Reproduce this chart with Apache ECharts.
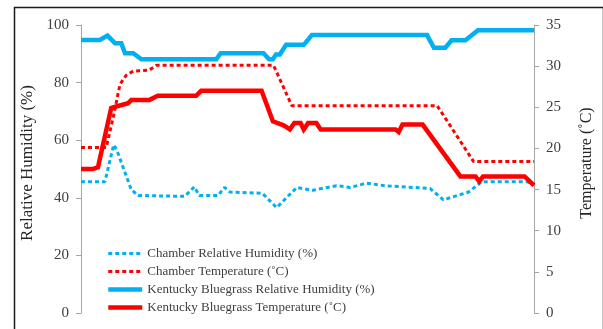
<!DOCTYPE html>
<html>
<head>
<meta charset="utf-8">
<script src="https://cdn.jsdelivr.net/npm/echarts@6/dist/echarts.min.js"></script>
<style>
  html, body { margin: 0; padding: 0; background: #fff; }
  #chart { width: 603px; height: 329px; }
</style>
</head>
<body>
<div id="chart"></div>
<script>
// Elapsed time (h) paired with readings; each series logs its own turning points.
const seriesNames = [
  'Chamber Relative Humidity (%)',
  'Chamber Temperature (˚C)',
  'Kentucky Bluegrass Relative Humidity (%)',
  'Kentucky Bluegrass Temperature (˚C)'
];

const chamberRH = [
  [0, 45.6], [3.8, 45.6], [5.2, 58.4], [5.7, 56.5], [8.0, 42.8], [9.1, 40.8],
  [16.5, 40.5], [18.0, 43.8], [18.8, 40.8], [21.8, 40.8], [22.8, 43.6], [23.7, 42.0],
  [28.8, 41.6], [31.1, 36.6], [34.3, 43.6], [36.8, 42.6], [40.6, 44.2], [42.8, 43.6],
  [45.4, 45.1], [48.3, 44.2], [54.2, 43.4], [55.5, 43.2], [57.6, 39.3], [61.6, 42.0],
  [63.7, 45.6], [70.9, 45.6], [72, 44.5]
];

const chamberTemp = [
  [0, 20.1], [4.0, 20.1], [5.1, 23.7], [6.2, 27.8], [7.2, 28.9], [8.3, 29.4],
  [10.8, 29.5], [12.0, 30.1], [30.6, 30.1], [33.5, 25.2], [56.6, 25.2],
  [62.4, 18.4], [72, 18.4]
];

const bluegrassRH = [
  [0, 94.8], [3.0, 94.8], [4.2, 96.3], [5.4, 93.7], [6.4, 93.7], [7.0, 90.2],
  [8.3, 90.2], [9.6, 88.1], [21.5, 88.1], [22.2, 90.2], [29.0, 90.2], [29.9, 88.1],
  [30.5, 88.1], [31.0, 89.8], [31.6, 89.8], [32.6, 93.1], [35.4, 93.1], [36.7, 96.5],
  [55.0, 96.5], [56.1, 92.1], [57.9, 92.1], [58.9, 94.7], [61.1, 94.7], [63.1, 98.2],
  [72, 98.2]
];

const bluegrassTemp = [
  [0, 17.5], [1.9, 17.5], [2.7, 17.7], [4.8, 24.9], [5.6, 25.1], [7.5, 25.5],
  [8.0, 25.9], [10.9, 25.9], [12.2, 26.4], [18.3, 26.4], [19.1, 27.0], [28.7, 27.0],
  [30.5, 23.3], [32.2, 22.8], [33.2, 22.3], [33.9, 23.1], [34.9, 23.1], [35.4, 22.3],
  [36.1, 23.1], [37.4, 23.1], [38.1, 22.3], [50.0, 22.3], [50.5, 22.0], [51.1, 22.9],
  [54.3, 22.9], [60.3, 16.6], [62.7, 16.6], [63.3, 16.0], [63.9, 16.6], [70.5, 16.6],
  [72, 15.5]
];

const blue = '#00B0F0';
const red = '#FF0000';
const serif = '"Liberation Serif", "Times New Roman", serif';
const textColor = '#404040';
const axisGray = '#a6a6a6';

const chart = echarts.init(document.getElementById('chart'), null, { renderer: 'canvas' });

function yAxisCommon() {
  return {
    type: 'value',
    nameLocation: 'middle',
    nameRotate: 90,
    splitLine: { show: false },
    axisLine: { show: true, lineStyle: { color: axisGray, width: 1 } },
    axisTick: { show: true, length: 5, lineStyle: { color: axisGray } },
    axisLabel: { color: textColor, fontFamily: serif, fontSize: 15, margin: 12 }
  };
}

const dotted = (color) => ({ color, width: 3, type: [4, 3], cap: 'butt' });
const solid = (color) => ({ color, width: 4.5, type: 'solid', cap: 'butt', join: 'miter' });

chart.setOption({
  animation: false,
  backgroundColor: '#fff',
  grid: { left: 81, right: 69, top: 25, bottom: 16 },
  xAxis: { type: 'value', min: 0, max: 72, show: false },
  yAxis: [
    Object.assign(yAxisCommon(), {
      min: 0, max: 100, interval: 20, position: 'left',
      name: 'Relative Humidity (%)', nameGap: 43,
      nameTextStyle: { color: '#262626', fontFamily: serif, fontSize: 17, padding: [0, 0, 0, 12] }
    }),
    Object.assign(yAxisCommon(), {
      min: 0, max: 35, interval: 5, position: 'right',
      name: 'Temperature (˚C)', nameGap: 45,
      nameTextStyle: { color: '#262626', fontFamily: serif, fontSize: 16, padding: [0, 0, 0, 12] }
    })
  ],
  legend: {
    orient: 'vertical',
    left: 106, top: 247, padding: 0,
    itemWidth: 34, itemHeight: 14, itemGap: 5,
    // line sample only, no marker dot
    itemStyle: { opacity: 0 },
    lineStyle: { width: 'inherit', type: 'inherit', opacity: 1 },
    textStyle: { color: textColor, fontFamily: serif, fontSize: 13 },
    data: seriesNames
  },
  graphic: [{
    type: 'rect', left: 12, top: 5, silent: true, z: 100,
    shape: { width: 589, height: 340 },
    style: { fill: 'none', stroke: '#1a1a1a', lineWidth: 1.5 }
  }],
  series: [
    { name: seriesNames[0], type: 'line', yAxisIndex: 0, data: chamberRH,
      symbol: 'none', lineStyle: dotted(blue), itemStyle: { color: blue } },
    { name: seriesNames[1], type: 'line', yAxisIndex: 1, data: chamberTemp,
      symbol: 'none', lineStyle: dotted(red), itemStyle: { color: red } },
    { name: seriesNames[2], type: 'line', yAxisIndex: 0, data: bluegrassRH,
      symbol: 'none', lineStyle: solid(blue), itemStyle: { color: blue } },
    { name: seriesNames[3], type: 'line', yAxisIndex: 1, data: bluegrassTemp,
      symbol: 'none', lineStyle: solid(red), itemStyle: { color: red } }
  ]
});
</script>
</body>
</html>
